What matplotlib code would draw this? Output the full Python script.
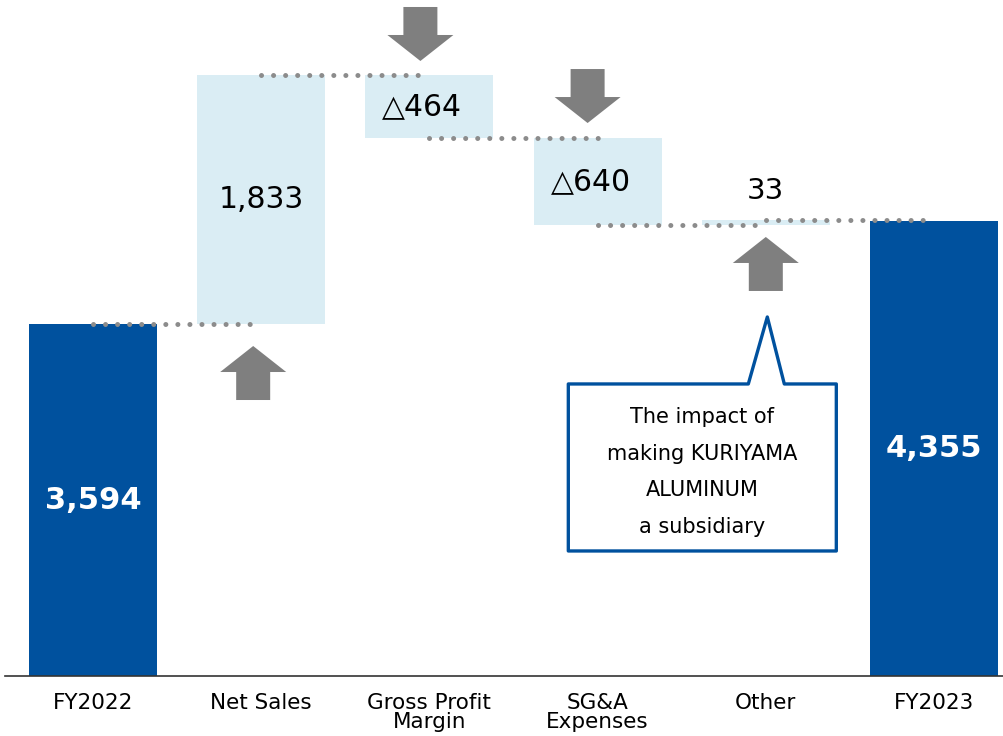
import numpy as np
import matplotlib.pyplot as plt
from matplotlib.patches import Polygon

categories = ['FY2022', 'Net Sales', 'Gross Profit\nMargin', 'SG&A\nExpenses', 'Other', 'FY2023']
values = [3594, 1833, -464, -640, 33, 4355]
is_total = [True, False, False, False, False, True]
callout_text = 'The impact of\nmaking KURIYAMA\nALUMINUM\na subsidiary'

dark_blue = '#00519e'
light_blue = '#daedf4'
arrow_gray = '#7f7f7f'
dot_gray = '#8c8c8c'

fig = plt.figure(figsize=(10.04, 7.36), dpi=100)
ax = fig.add_axes([5 / 1004, 60 / 736, 999 / 1004, 676 / 736])
xmin, xmax = -0.523, 5.416
ymin, ymax = 1003, 5979
ax.set_xlim(xmin, xmax)
ax.set_ylim(ymin, ymax)

# pixel -> data unit helpers
ax_w_px = 999
ax_h_px = 676
def pxx(d):
    return d * (xmax - xmin) / ax_w_px
def pxy(d):
    return d * (ymax - ymin) / ax_h_px

x = np.arange(len(categories))
width = 0.76

# waterfall geometry
bottoms, tops = [], []
level = 0
for v, tot in zip(values, is_total):
    if tot:
        bottoms.append(0)
        tops.append(v)
        level = v
    else:
        new = level + v
        bottoms.append(min(level, new))
        tops.append(max(level, new))
        level = new

heights = [t - b for t, b in zip(tops, bottoms)]
colors = [dark_blue if t else light_blue for t in is_total]
ax.bar(x, heights, bottom=bottoms, width=width, color=colors, zorder=1)

# labels
def fmt(v):
    return ('△' if v < 0 else '') + f'{abs(v):,}'

for i, (v, tot) in enumerate(zip(values, is_total)):
    if tot:
        yc = (max(bottoms[i], ymin) + tops[i]) / 2
        ax.text(x[i], yc, fmt(v), ha='center', va='center', color='white',
                fontsize=22, fontweight='bold', zorder=5)
    elif heights[i] < pxy(30):
        ax.text(x[i], tops[i] + pxy(29), fmt(v), ha='center', va='center',
                color='black', fontsize=21, zorder=5)
    else:
        dx = -pxx(7) if v < 0 else 0
        ax.text(x[i] + dx, (bottoms[i] + tops[i]) / 2, fmt(v), ha='center', va='center',
                color='black', fontsize=21.5, zorder=5)

# dotted connectors (center to next center)
running = np.cumsum([0] + [v for v, t in zip(values, is_total) if not t])
levels = [values[0] + r for r in running]
for i, lv in enumerate(levels):
    ax.plot([x[i], x[i + 1]], [lv, lv], color=dot_gray, lw=3.6,
            linestyle=(0, (0.01, 2.4)), dash_capstyle='round', zorder=3)

# block arrows
def block_arrow(cx, tip, up=True, hw=66, hh=26, sw=34, sh=28):
    s = -1 if up else 1
    pts = [(0, 0), (hw / 2, hh), (sw / 2, hh), (sw / 2, hh + sh),
           (-sw / 2, hh + sh), (-sw / 2, hh), (-hw / 2, hh)]
    verts = [(cx + pxx(px), tip + s * pxy(py)) for px, py in pts]
    ax.add_patch(Polygon(verts, closed=True, facecolor=arrow_gray,
                         edgecolor='none', zorder=4))

block_arrow(x[1] - pxx(8), levels[0] - pxy(22), up=True)
block_arrow(x[2] - pxx(9), levels[1] + pxy(14), up=False)
block_arrow(x[3] - pxx(10), levels[2] + pxy(15), up=False)
block_arrow(x[4], levels[3] - pxy(12), up=True)

# callout box
tip_x = x[4] + pxx(1.5)
tip_y = levels[3] - pxy(92)
box = [(0, 0), (17, 67), (69, 67), (69, 234), (-199, 234), (-199, 67), (-19, 67)]
verts = [(tip_x + pxx(px), tip_y - pxy(py)) for px, py in box]
ax.add_patch(Polygon(verts, closed=True, facecolor='white', edgecolor=dark_blue,
                     lw=2.4, joinstyle='round', zorder=4))
ax.text(tip_x + pxx(-65), tip_y - pxy(155), callout_text, ha='center', va='center',
        fontsize=15, linespacing=2.05, zorder=5)

ax.set_xticks(x)
ax.set_xticklabels(categories, fontsize=15.5, linespacing=0.95)
ax.tick_params(axis='x', length=0, pad=12)
ax.set_yticks([])
for side in ['top', 'right', 'left']:
    ax.spines[side].set_visible(False)
ax.spines['bottom'].set_color('#333333')
ax.spines['bottom'].set_linewidth(1.2)

fig.savefig('out.png', dpi=100)
